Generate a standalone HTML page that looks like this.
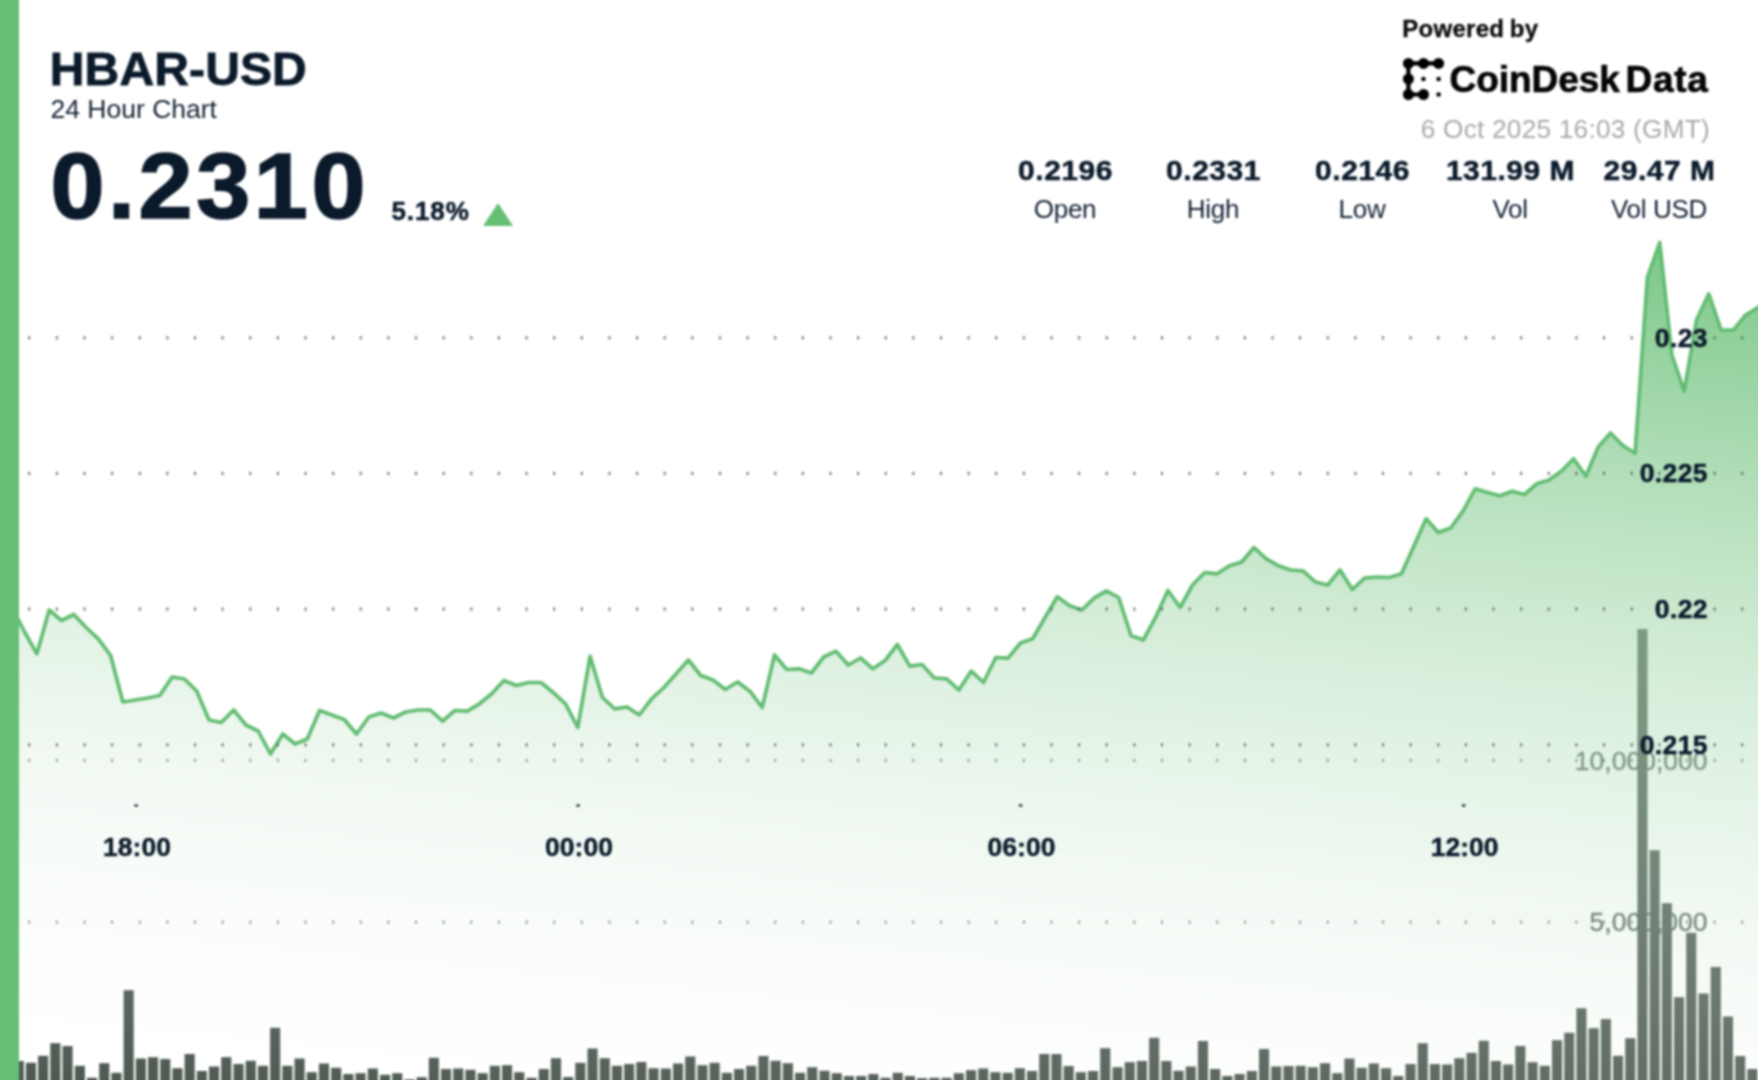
<!DOCTYPE html>
<html><head><meta charset="utf-8"><title>HBAR-USD 24 Hour Chart</title>
<style>
html,body{margin:0;padding:0;background:#fff;}
body{width:1758px;height:1080px;overflow:hidden;position:relative;font-family:"Liberation Sans",sans-serif;}
svg{position:absolute;left:-24px;top:-24px;display:block;filter:blur(1.0px);}
svg text{font-family:"Liberation Sans",sans-serif;}
</style></head><body>
<svg width="1806" height="1128" viewBox="-24 -24 1806 1128">
<defs>
<linearGradient id="ag" gradientUnits="userSpaceOnUse" x1="1758" y1="242" x2="1660.4" y2="1242.1">
<stop offset="0" stop-color="#66be74" stop-opacity="0.88"/>
<stop offset="1" stop-color="#ffffff" stop-opacity="0"/>
</linearGradient>
</defs>
<rect x="-24" y="-24" width="1806" height="1128" fill="#fff"/>
<text x="1707.5" y="769.8" text-anchor="end" font-size="26.5" fill="#5a665e" stroke="#5a665e" stroke-width="0.4">10,000,000</text>
<text x="1707.5" y="931.3" text-anchor="end" font-size="26.5" fill="#5a665e" stroke="#5a665e" stroke-width="0.4">5,000,000</text>
<g fill="#4c5850">
<rect x="1.5" y="1061.0" width="10.1" height="43.0"/>
<rect x="13.7" y="1061.0" width="10.1" height="43.0"/>
<rect x="25.9" y="1062.8" width="10.1" height="41.2"/>
<rect x="38.1" y="1055.8" width="10.1" height="48.2"/>
<rect x="50.3" y="1043.2" width="10.1" height="60.8"/>
<rect x="62.5" y="1046.0" width="10.1" height="58.0"/>
<rect x="74.8" y="1065.8" width="10.1" height="38.2"/>
<rect x="87.0" y="1077.8" width="10.1" height="26.2"/>
<rect x="99.2" y="1063.2" width="10.1" height="40.8"/>
<rect x="111.4" y="1072.8" width="10.1" height="31.2"/>
<rect x="123.6" y="990.2" width="10.1" height="113.8"/>
<rect x="135.8" y="1058.5" width="10.1" height="45.5"/>
<rect x="148.0" y="1057.2" width="10.1" height="46.8"/>
<rect x="160.2" y="1059.0" width="10.1" height="45.0"/>
<rect x="172.4" y="1068.2" width="10.1" height="35.8"/>
<rect x="184.6" y="1054.0" width="10.1" height="50.0"/>
<rect x="196.8" y="1071.0" width="10.1" height="33.0"/>
<rect x="209.0" y="1066.5" width="10.1" height="37.5"/>
<rect x="221.2" y="1057.2" width="10.1" height="46.8"/>
<rect x="233.5" y="1064.0" width="10.1" height="40.0"/>
<rect x="245.7" y="1060.8" width="10.1" height="43.2"/>
<rect x="257.9" y="1065.8" width="10.1" height="38.2"/>
<rect x="270.1" y="1027.8" width="10.1" height="76.2"/>
<rect x="282.3" y="1065.8" width="10.1" height="38.2"/>
<rect x="294.5" y="1058.5" width="10.1" height="45.5"/>
<rect x="306.7" y="1072.2" width="10.1" height="31.8"/>
<rect x="318.9" y="1063.5" width="10.1" height="40.5"/>
<rect x="331.1" y="1067.8" width="10.1" height="36.2"/>
<rect x="343.3" y="1074.0" width="10.1" height="30.0"/>
<rect x="355.5" y="1073.2" width="10.1" height="30.8"/>
<rect x="367.8" y="1068.5" width="10.1" height="35.5"/>
<rect x="380.0" y="1074.8" width="10.1" height="29.2"/>
<rect x="392.2" y="1073.2" width="10.1" height="30.8"/>
<rect x="404.4" y="1079.5" width="10.1" height="24.5"/>
<rect x="416.6" y="1077.2" width="10.1" height="26.8"/>
<rect x="428.8" y="1057.8" width="10.1" height="46.2"/>
<rect x="441.0" y="1069.0" width="10.1" height="35.0"/>
<rect x="453.2" y="1068.5" width="10.1" height="35.5"/>
<rect x="465.4" y="1069.8" width="10.1" height="34.2"/>
<rect x="477.6" y="1073.2" width="10.1" height="30.8"/>
<rect x="489.8" y="1065.8" width="10.1" height="38.2"/>
<rect x="502.0" y="1065.2" width="10.1" height="38.8"/>
<rect x="514.2" y="1072.2" width="10.1" height="31.8"/>
<rect x="526.5" y="1077.8" width="10.1" height="26.2"/>
<rect x="538.7" y="1069.0" width="10.1" height="35.0"/>
<rect x="550.9" y="1058.2" width="10.1" height="45.8"/>
<rect x="563.1" y="1077.0" width="10.1" height="27.0"/>
<rect x="575.3" y="1062.8" width="10.1" height="41.2"/>
<rect x="587.5" y="1048.5" width="10.1" height="55.5"/>
<rect x="599.7" y="1058.2" width="10.1" height="45.8"/>
<rect x="611.9" y="1065.8" width="10.1" height="38.2"/>
<rect x="624.1" y="1064.0" width="10.1" height="40.0"/>
<rect x="636.3" y="1062.0" width="10.1" height="42.0"/>
<rect x="648.5" y="1068.2" width="10.1" height="35.8"/>
<rect x="660.8" y="1068.5" width="10.1" height="35.5"/>
<rect x="673.0" y="1063.5" width="10.1" height="40.5"/>
<rect x="685.2" y="1056.5" width="10.1" height="47.5"/>
<rect x="697.4" y="1065.2" width="10.1" height="38.8"/>
<rect x="709.6" y="1062.8" width="10.1" height="41.2"/>
<rect x="721.8" y="1072.8" width="10.1" height="31.2"/>
<rect x="734.0" y="1069.0" width="10.1" height="35.0"/>
<rect x="746.2" y="1065.8" width="10.1" height="38.2"/>
<rect x="758.4" y="1056.0" width="10.1" height="48.0"/>
<rect x="770.6" y="1060.8" width="10.1" height="43.2"/>
<rect x="782.8" y="1063.2" width="10.1" height="40.8"/>
<rect x="795.0" y="1072.8" width="10.1" height="31.2"/>
<rect x="807.2" y="1067.2" width="10.1" height="36.8"/>
<rect x="819.5" y="1070.8" width="10.1" height="33.2"/>
<rect x="831.7" y="1073.2" width="10.1" height="30.8"/>
<rect x="843.9" y="1076.0" width="10.1" height="28.0"/>
<rect x="856.1" y="1076.0" width="10.1" height="28.0"/>
<rect x="868.3" y="1074.0" width="10.1" height="30.0"/>
<rect x="880.5" y="1077.8" width="10.1" height="26.2"/>
<rect x="892.7" y="1072.8" width="10.1" height="31.2"/>
<rect x="904.9" y="1076.0" width="10.1" height="28.0"/>
<rect x="917.1" y="1078.2" width="10.1" height="25.8"/>
<rect x="929.3" y="1077.8" width="10.1" height="26.2"/>
<rect x="941.5" y="1077.8" width="10.1" height="26.2"/>
<rect x="953.8" y="1073.2" width="10.1" height="30.8"/>
<rect x="966.0" y="1070.2" width="10.1" height="33.8"/>
<rect x="978.2" y="1068.5" width="10.1" height="35.5"/>
<rect x="990.4" y="1072.2" width="10.1" height="31.8"/>
<rect x="1002.6" y="1072.8" width="10.1" height="31.2"/>
<rect x="1014.8" y="1068.2" width="10.1" height="35.8"/>
<rect x="1027.0" y="1071.0" width="10.1" height="33.0"/>
<rect x="1039.2" y="1054.0" width="10.1" height="50.0"/>
<rect x="1051.4" y="1054.0" width="10.1" height="50.0"/>
<rect x="1063.6" y="1066.0" width="10.1" height="38.0"/>
<rect x="1075.8" y="1072.2" width="10.1" height="31.8"/>
<rect x="1088.0" y="1071.0" width="10.1" height="33.0"/>
<rect x="1100.2" y="1048.2" width="10.1" height="55.8"/>
<rect x="1112.5" y="1067.2" width="10.1" height="36.8"/>
<rect x="1124.7" y="1062.2" width="10.1" height="41.8"/>
<rect x="1136.9" y="1061.0" width="10.1" height="43.0"/>
<rect x="1149.1" y="1037.8" width="10.1" height="66.2"/>
<rect x="1161.3" y="1061.0" width="10.1" height="43.0"/>
<rect x="1173.5" y="1070.8" width="10.1" height="33.2"/>
<rect x="1185.7" y="1066.5" width="10.1" height="37.5"/>
<rect x="1197.9" y="1041.0" width="10.1" height="63.0"/>
<rect x="1210.1" y="1069.0" width="10.1" height="35.0"/>
<rect x="1222.3" y="1076.0" width="10.1" height="28.0"/>
<rect x="1234.5" y="1074.0" width="10.1" height="30.0"/>
<rect x="1246.8" y="1071.0" width="10.1" height="33.0"/>
<rect x="1259.0" y="1049.0" width="10.1" height="55.0"/>
<rect x="1271.2" y="1066.5" width="10.1" height="37.5"/>
<rect x="1283.4" y="1066.0" width="10.1" height="38.0"/>
<rect x="1295.6" y="1065.8" width="10.1" height="38.2"/>
<rect x="1307.8" y="1067.2" width="10.1" height="36.8"/>
<rect x="1320.0" y="1063.2" width="10.1" height="40.8"/>
<rect x="1332.2" y="1073.2" width="10.1" height="30.8"/>
<rect x="1344.4" y="1058.5" width="10.1" height="45.5"/>
<rect x="1356.6" y="1067.8" width="10.1" height="36.2"/>
<rect x="1368.8" y="1063.5" width="10.1" height="40.5"/>
<rect x="1381.0" y="1068.2" width="10.1" height="35.8"/>
<rect x="1393.2" y="1076.0" width="10.1" height="28.0"/>
<rect x="1405.5" y="1064.0" width="10.1" height="40.0"/>
<rect x="1417.7" y="1043.2" width="10.1" height="60.8"/>
<rect x="1429.9" y="1064.0" width="10.1" height="40.0"/>
<rect x="1442.1" y="1064.5" width="10.1" height="39.5"/>
<rect x="1454.3" y="1058.2" width="10.1" height="45.8"/>
<rect x="1466.5" y="1052.8" width="10.1" height="51.2"/>
<rect x="1478.7" y="1040.8" width="10.1" height="63.2"/>
<rect x="1490.9" y="1061.0" width="10.1" height="43.0"/>
<rect x="1503.1" y="1064.5" width="10.1" height="39.5"/>
<rect x="1515.3" y="1046.0" width="10.1" height="58.0"/>
<rect x="1527.5" y="1062.2" width="10.1" height="41.8"/>
<rect x="1539.8" y="1065.8" width="10.1" height="38.2"/>
<rect x="1552.0" y="1040.2" width="10.1" height="63.8"/>
<rect x="1564.2" y="1032.8" width="10.1" height="71.2"/>
<rect x="1576.4" y="1008.2" width="10.1" height="95.8"/>
<rect x="1588.6" y="1028.2" width="10.1" height="75.8"/>
<rect x="1600.8" y="1019.0" width="10.1" height="85.0"/>
<rect x="1613.0" y="1055.8" width="10.1" height="48.2"/>
<rect x="1625.2" y="1038.2" width="10.1" height="65.8"/>
<rect x="1637.4" y="629.0" width="10.1" height="475.0"/>
<rect x="1649.6" y="850.2" width="10.1" height="253.8"/>
<rect x="1661.8" y="903.2" width="10.1" height="200.8"/>
<rect x="1674.0" y="997.2" width="10.1" height="106.8"/>
<rect x="1686.2" y="932.8" width="10.1" height="171.2"/>
<rect x="1698.5" y="993.5" width="10.1" height="110.5"/>
<rect x="1710.7" y="967.0" width="10.1" height="137.0"/>
<rect x="1722.9" y="1016.5" width="10.1" height="87.5"/>
<rect x="1735.1" y="1056.0" width="10.1" height="48.0"/>
<rect x="1747.3" y="1069.0" width="10.1" height="35.0"/>
</g>
<path d="M-24.0,605.0 L0.0,605.0 L12.3,608.0 L24.6,632.0 L36.9,653.8 L49.2,610.0 L61.5,620.5 L73.8,614.5 L86.1,627.5 L98.3,638.8 L110.6,655.5 L122.9,702.0 L135.2,700.0 L147.5,698.0 L159.8,695.5 L172.1,677.0 L184.4,679.0 L196.7,691.0 L209.0,720.0 L221.3,722.5 L233.6,710.0 L245.9,725.0 L258.2,731.0 L270.5,754.0 L282.8,734.0 L295.0,744.0 L307.3,739.0 L319.6,710.5 L331.9,715.0 L344.2,719.5 L356.5,734.0 L368.8,717.0 L381.1,713.0 L393.4,718.0 L405.7,712.0 L418.0,710.0 L430.3,710.0 L442.6,721.2 L454.9,710.5 L467.2,711.2 L479.5,703.8 L491.7,693.8 L504.0,680.5 L516.3,685.5 L528.6,682.5 L540.9,682.5 L553.2,692.5 L565.5,703.8 L577.8,727.5 L590.1,656.2 L602.4,697.5 L614.7,708.8 L627.0,707.0 L639.3,715.0 L651.6,698.8 L663.9,687.5 L676.2,673.8 L688.4,660.0 L700.7,675.5 L713.0,680.0 L725.3,689.5 L737.6,682.0 L749.9,691.2 L762.2,707.5 L774.5,655.0 L786.8,669.5 L799.1,668.8 L811.4,673.0 L823.7,657.0 L836.0,651.2 L848.3,665.0 L860.6,658.0 L872.9,668.8 L885.1,660.5 L897.4,644.5 L909.7,666.2 L922.0,664.5 L934.3,678.0 L946.6,678.8 L958.9,690.0 L971.2,671.2 L983.5,682.5 L995.8,657.5 L1008.1,658.2 L1020.4,643.0 L1032.7,638.8 L1045.0,617.5 L1057.3,596.8 L1069.6,605.8 L1081.8,610.0 L1094.1,598.2 L1106.4,590.8 L1118.7,597.5 L1131.0,635.5 L1143.3,640.0 L1155.6,617.5 L1167.9,590.5 L1180.2,607.5 L1192.5,585.0 L1204.8,572.5 L1217.1,573.8 L1229.4,565.8 L1241.7,562.0 L1254.0,547.5 L1266.3,558.8 L1278.5,565.8 L1290.8,570.0 L1303.1,570.8 L1315.4,582.0 L1327.7,585.0 L1340.0,570.0 L1352.3,589.5 L1364.6,578.2 L1376.9,577.0 L1389.2,577.5 L1401.5,573.8 L1413.8,546.2 L1426.1,518.8 L1438.4,532.5 L1450.7,528.0 L1463.0,511.2 L1475.2,488.8 L1487.5,492.5 L1499.8,495.8 L1512.1,491.2 L1524.4,494.5 L1536.7,483.8 L1549.0,480.0 L1561.3,471.2 L1573.6,458.8 L1585.9,476.2 L1598.2,447.0 L1610.5,433.0 L1622.8,445.5 L1635.1,453.2 L1647.4,277.5 L1659.7,242.5 L1671.9,355.0 L1684.2,391.0 L1696.5,320.0 L1708.8,293.8 L1721.1,330.0 L1733.4,330.0 L1745.7,315.0 L1758.0,307.5 L1782.0,292.9 L1782,1104 L-24,1104 Z" fill="url(#ag)"/>
<path d="M-24.0,605.0 L0.0,605.0 L12.3,608.0 L24.6,632.0 L36.9,653.8 L49.2,610.0 L61.5,620.5 L73.8,614.5 L86.1,627.5 L98.3,638.8 L110.6,655.5 L122.9,702.0 L135.2,700.0 L147.5,698.0 L159.8,695.5 L172.1,677.0 L184.4,679.0 L196.7,691.0 L209.0,720.0 L221.3,722.5 L233.6,710.0 L245.9,725.0 L258.2,731.0 L270.5,754.0 L282.8,734.0 L295.0,744.0 L307.3,739.0 L319.6,710.5 L331.9,715.0 L344.2,719.5 L356.5,734.0 L368.8,717.0 L381.1,713.0 L393.4,718.0 L405.7,712.0 L418.0,710.0 L430.3,710.0 L442.6,721.2 L454.9,710.5 L467.2,711.2 L479.5,703.8 L491.7,693.8 L504.0,680.5 L516.3,685.5 L528.6,682.5 L540.9,682.5 L553.2,692.5 L565.5,703.8 L577.8,727.5 L590.1,656.2 L602.4,697.5 L614.7,708.8 L627.0,707.0 L639.3,715.0 L651.6,698.8 L663.9,687.5 L676.2,673.8 L688.4,660.0 L700.7,675.5 L713.0,680.0 L725.3,689.5 L737.6,682.0 L749.9,691.2 L762.2,707.5 L774.5,655.0 L786.8,669.5 L799.1,668.8 L811.4,673.0 L823.7,657.0 L836.0,651.2 L848.3,665.0 L860.6,658.0 L872.9,668.8 L885.1,660.5 L897.4,644.5 L909.7,666.2 L922.0,664.5 L934.3,678.0 L946.6,678.8 L958.9,690.0 L971.2,671.2 L983.5,682.5 L995.8,657.5 L1008.1,658.2 L1020.4,643.0 L1032.7,638.8 L1045.0,617.5 L1057.3,596.8 L1069.6,605.8 L1081.8,610.0 L1094.1,598.2 L1106.4,590.8 L1118.7,597.5 L1131.0,635.5 L1143.3,640.0 L1155.6,617.5 L1167.9,590.5 L1180.2,607.5 L1192.5,585.0 L1204.8,572.5 L1217.1,573.8 L1229.4,565.8 L1241.7,562.0 L1254.0,547.5 L1266.3,558.8 L1278.5,565.8 L1290.8,570.0 L1303.1,570.8 L1315.4,582.0 L1327.7,585.0 L1340.0,570.0 L1352.3,589.5 L1364.6,578.2 L1376.9,577.0 L1389.2,577.5 L1401.5,573.8 L1413.8,546.2 L1426.1,518.8 L1438.4,532.5 L1450.7,528.0 L1463.0,511.2 L1475.2,488.8 L1487.5,492.5 L1499.8,495.8 L1512.1,491.2 L1524.4,494.5 L1536.7,483.8 L1549.0,480.0 L1561.3,471.2 L1573.6,458.8 L1585.9,476.2 L1598.2,447.0 L1610.5,433.0 L1622.8,445.5 L1635.1,453.2 L1647.4,277.5 L1659.7,242.5 L1671.9,355.0 L1684.2,391.0 L1696.5,320.0 L1708.8,293.8 L1721.1,330.0 L1733.4,330.0 L1745.7,315.0 L1758.0,307.5 L1782.0,292.9" fill="none" stroke="#62bc72" stroke-width="3.7" stroke-linejoin="round"/>
<g fill="#55555a" opacity="0.8"><rect x="28.2" y="336.3" width="2.0" height="3.2"/><rect x="55.9" y="336.3" width="2.0" height="3.2"/><rect x="83.5" y="336.3" width="2.0" height="3.2"/><rect x="111.1" y="336.3" width="2.0" height="3.2"/><rect x="138.8" y="336.3" width="2.0" height="3.2"/><rect x="166.4" y="336.3" width="2.0" height="3.2"/><rect x="194.0" y="336.3" width="2.0" height="3.2"/><rect x="221.6" y="336.3" width="2.0" height="3.2"/><rect x="249.3" y="336.3" width="2.0" height="3.2"/><rect x="276.9" y="336.3" width="2.0" height="3.2"/><rect x="304.5" y="336.3" width="2.0" height="3.2"/><rect x="332.2" y="336.3" width="2.0" height="3.2"/><rect x="359.8" y="336.3" width="2.0" height="3.2"/><rect x="387.4" y="336.3" width="2.0" height="3.2"/><rect x="415.0" y="336.3" width="2.0" height="3.2"/><rect x="442.7" y="336.3" width="2.0" height="3.2"/><rect x="470.3" y="336.3" width="2.0" height="3.2"/><rect x="497.9" y="336.3" width="2.0" height="3.2"/><rect x="525.6" y="336.3" width="2.0" height="3.2"/><rect x="553.2" y="336.3" width="2.0" height="3.2"/><rect x="580.8" y="336.3" width="2.0" height="3.2"/><rect x="608.4" y="336.3" width="2.0" height="3.2"/><rect x="636.1" y="336.3" width="2.0" height="3.2"/><rect x="663.7" y="336.3" width="2.0" height="3.2"/><rect x="691.3" y="336.3" width="2.0" height="3.2"/><rect x="719.0" y="336.3" width="2.0" height="3.2"/><rect x="746.6" y="336.3" width="2.0" height="3.2"/><rect x="774.2" y="336.3" width="2.0" height="3.2"/><rect x="801.8" y="336.3" width="2.0" height="3.2"/><rect x="829.5" y="336.3" width="2.0" height="3.2"/><rect x="857.1" y="336.3" width="2.0" height="3.2"/><rect x="884.7" y="336.3" width="2.0" height="3.2"/><rect x="912.3" y="336.3" width="2.0" height="3.2"/><rect x="940.0" y="336.3" width="2.0" height="3.2"/><rect x="967.6" y="336.3" width="2.0" height="3.2"/><rect x="995.2" y="336.3" width="2.0" height="3.2"/><rect x="1022.9" y="336.3" width="2.0" height="3.2"/><rect x="1050.5" y="336.3" width="2.0" height="3.2"/><rect x="1078.1" y="336.3" width="2.0" height="3.2"/><rect x="1105.7" y="336.3" width="2.0" height="3.2"/><rect x="1133.4" y="336.3" width="2.0" height="3.2"/><rect x="1161.0" y="336.3" width="2.0" height="3.2"/><rect x="1188.6" y="336.3" width="2.0" height="3.2"/><rect x="1216.3" y="336.3" width="2.0" height="3.2"/><rect x="1243.9" y="336.3" width="2.0" height="3.2"/><rect x="1271.5" y="336.3" width="2.0" height="3.2"/><rect x="1299.1" y="336.3" width="2.0" height="3.2"/><rect x="1326.8" y="336.3" width="2.0" height="3.2"/><rect x="1354.4" y="336.3" width="2.0" height="3.2"/><rect x="1382.0" y="336.3" width="2.0" height="3.2"/><rect x="1409.6" y="336.3" width="2.0" height="3.2"/><rect x="1437.3" y="336.3" width="2.0" height="3.2"/><rect x="1464.9" y="336.3" width="2.0" height="3.2"/><rect x="1492.5" y="336.3" width="2.0" height="3.2"/><rect x="1520.2" y="336.3" width="2.0" height="3.2"/><rect x="1547.8" y="336.3" width="2.0" height="3.2"/><rect x="1575.4" y="336.3" width="2.0" height="3.2"/><rect x="1603.0" y="336.3" width="2.0" height="3.2"/><rect x="1630.7" y="336.3" width="2.0" height="3.2"/><rect x="1658.3" y="336.3" width="2.0" height="3.2"/><rect x="1685.9" y="336.3" width="2.0" height="3.2"/><rect x="1713.6" y="336.3" width="2.0" height="3.2"/><rect x="1741.2" y="336.3" width="2.0" height="3.2"/><rect x="1768.8" y="336.3" width="2.0" height="3.2"/></g>
<g fill="#55555a" opacity="0.8"><rect x="28.2" y="471.8" width="2.0" height="3.2"/><rect x="55.9" y="471.8" width="2.0" height="3.2"/><rect x="83.5" y="471.8" width="2.0" height="3.2"/><rect x="111.1" y="471.8" width="2.0" height="3.2"/><rect x="138.8" y="471.8" width="2.0" height="3.2"/><rect x="166.4" y="471.8" width="2.0" height="3.2"/><rect x="194.0" y="471.8" width="2.0" height="3.2"/><rect x="221.6" y="471.8" width="2.0" height="3.2"/><rect x="249.3" y="471.8" width="2.0" height="3.2"/><rect x="276.9" y="471.8" width="2.0" height="3.2"/><rect x="304.5" y="471.8" width="2.0" height="3.2"/><rect x="332.2" y="471.8" width="2.0" height="3.2"/><rect x="359.8" y="471.8" width="2.0" height="3.2"/><rect x="387.4" y="471.8" width="2.0" height="3.2"/><rect x="415.0" y="471.8" width="2.0" height="3.2"/><rect x="442.7" y="471.8" width="2.0" height="3.2"/><rect x="470.3" y="471.8" width="2.0" height="3.2"/><rect x="497.9" y="471.8" width="2.0" height="3.2"/><rect x="525.6" y="471.8" width="2.0" height="3.2"/><rect x="553.2" y="471.8" width="2.0" height="3.2"/><rect x="580.8" y="471.8" width="2.0" height="3.2"/><rect x="608.4" y="471.8" width="2.0" height="3.2"/><rect x="636.1" y="471.8" width="2.0" height="3.2"/><rect x="663.7" y="471.8" width="2.0" height="3.2"/><rect x="691.3" y="471.8" width="2.0" height="3.2"/><rect x="719.0" y="471.8" width="2.0" height="3.2"/><rect x="746.6" y="471.8" width="2.0" height="3.2"/><rect x="774.2" y="471.8" width="2.0" height="3.2"/><rect x="801.8" y="471.8" width="2.0" height="3.2"/><rect x="829.5" y="471.8" width="2.0" height="3.2"/><rect x="857.1" y="471.8" width="2.0" height="3.2"/><rect x="884.7" y="471.8" width="2.0" height="3.2"/><rect x="912.3" y="471.8" width="2.0" height="3.2"/><rect x="940.0" y="471.8" width="2.0" height="3.2"/><rect x="967.6" y="471.8" width="2.0" height="3.2"/><rect x="995.2" y="471.8" width="2.0" height="3.2"/><rect x="1022.9" y="471.8" width="2.0" height="3.2"/><rect x="1050.5" y="471.8" width="2.0" height="3.2"/><rect x="1078.1" y="471.8" width="2.0" height="3.2"/><rect x="1105.7" y="471.8" width="2.0" height="3.2"/><rect x="1133.4" y="471.8" width="2.0" height="3.2"/><rect x="1161.0" y="471.8" width="2.0" height="3.2"/><rect x="1188.6" y="471.8" width="2.0" height="3.2"/><rect x="1216.3" y="471.8" width="2.0" height="3.2"/><rect x="1243.9" y="471.8" width="2.0" height="3.2"/><rect x="1271.5" y="471.8" width="2.0" height="3.2"/><rect x="1299.1" y="471.8" width="2.0" height="3.2"/><rect x="1326.8" y="471.8" width="2.0" height="3.2"/><rect x="1354.4" y="471.8" width="2.0" height="3.2"/><rect x="1382.0" y="471.8" width="2.0" height="3.2"/><rect x="1409.6" y="471.8" width="2.0" height="3.2"/><rect x="1437.3" y="471.8" width="2.0" height="3.2"/><rect x="1464.9" y="471.8" width="2.0" height="3.2"/><rect x="1492.5" y="471.8" width="2.0" height="3.2"/><rect x="1520.2" y="471.8" width="2.0" height="3.2"/><rect x="1547.8" y="471.8" width="2.0" height="3.2"/><rect x="1575.4" y="471.8" width="2.0" height="3.2"/><rect x="1603.0" y="471.8" width="2.0" height="3.2"/><rect x="1630.7" y="471.8" width="2.0" height="3.2"/><rect x="1658.3" y="471.8" width="2.0" height="3.2"/><rect x="1685.9" y="471.8" width="2.0" height="3.2"/><rect x="1713.6" y="471.8" width="2.0" height="3.2"/><rect x="1741.2" y="471.8" width="2.0" height="3.2"/><rect x="1768.8" y="471.8" width="2.0" height="3.2"/></g>
<g fill="#55555a" opacity="0.8"><rect x="28.2" y="607.5" width="2.0" height="3.2"/><rect x="55.9" y="607.5" width="2.0" height="3.2"/><rect x="83.5" y="607.5" width="2.0" height="3.2"/><rect x="111.1" y="607.5" width="2.0" height="3.2"/><rect x="138.8" y="607.5" width="2.0" height="3.2"/><rect x="166.4" y="607.5" width="2.0" height="3.2"/><rect x="194.0" y="607.5" width="2.0" height="3.2"/><rect x="221.6" y="607.5" width="2.0" height="3.2"/><rect x="249.3" y="607.5" width="2.0" height="3.2"/><rect x="276.9" y="607.5" width="2.0" height="3.2"/><rect x="304.5" y="607.5" width="2.0" height="3.2"/><rect x="332.2" y="607.5" width="2.0" height="3.2"/><rect x="359.8" y="607.5" width="2.0" height="3.2"/><rect x="387.4" y="607.5" width="2.0" height="3.2"/><rect x="415.0" y="607.5" width="2.0" height="3.2"/><rect x="442.7" y="607.5" width="2.0" height="3.2"/><rect x="470.3" y="607.5" width="2.0" height="3.2"/><rect x="497.9" y="607.5" width="2.0" height="3.2"/><rect x="525.6" y="607.5" width="2.0" height="3.2"/><rect x="553.2" y="607.5" width="2.0" height="3.2"/><rect x="580.8" y="607.5" width="2.0" height="3.2"/><rect x="608.4" y="607.5" width="2.0" height="3.2"/><rect x="636.1" y="607.5" width="2.0" height="3.2"/><rect x="663.7" y="607.5" width="2.0" height="3.2"/><rect x="691.3" y="607.5" width="2.0" height="3.2"/><rect x="719.0" y="607.5" width="2.0" height="3.2"/><rect x="746.6" y="607.5" width="2.0" height="3.2"/><rect x="774.2" y="607.5" width="2.0" height="3.2"/><rect x="801.8" y="607.5" width="2.0" height="3.2"/><rect x="829.5" y="607.5" width="2.0" height="3.2"/><rect x="857.1" y="607.5" width="2.0" height="3.2"/><rect x="884.7" y="607.5" width="2.0" height="3.2"/><rect x="912.3" y="607.5" width="2.0" height="3.2"/><rect x="940.0" y="607.5" width="2.0" height="3.2"/><rect x="967.6" y="607.5" width="2.0" height="3.2"/><rect x="995.2" y="607.5" width="2.0" height="3.2"/><rect x="1022.9" y="607.5" width="2.0" height="3.2"/><rect x="1050.5" y="607.5" width="2.0" height="3.2"/><rect x="1078.1" y="607.5" width="2.0" height="3.2"/><rect x="1105.7" y="607.5" width="2.0" height="3.2"/><rect x="1133.4" y="607.5" width="2.0" height="3.2"/><rect x="1161.0" y="607.5" width="2.0" height="3.2"/><rect x="1188.6" y="607.5" width="2.0" height="3.2"/><rect x="1216.3" y="607.5" width="2.0" height="3.2"/><rect x="1243.9" y="607.5" width="2.0" height="3.2"/><rect x="1271.5" y="607.5" width="2.0" height="3.2"/><rect x="1299.1" y="607.5" width="2.0" height="3.2"/><rect x="1326.8" y="607.5" width="2.0" height="3.2"/><rect x="1354.4" y="607.5" width="2.0" height="3.2"/><rect x="1382.0" y="607.5" width="2.0" height="3.2"/><rect x="1409.6" y="607.5" width="2.0" height="3.2"/><rect x="1437.3" y="607.5" width="2.0" height="3.2"/><rect x="1464.9" y="607.5" width="2.0" height="3.2"/><rect x="1492.5" y="607.5" width="2.0" height="3.2"/><rect x="1520.2" y="607.5" width="2.0" height="3.2"/><rect x="1547.8" y="607.5" width="2.0" height="3.2"/><rect x="1575.4" y="607.5" width="2.0" height="3.2"/><rect x="1603.0" y="607.5" width="2.0" height="3.2"/><rect x="1630.7" y="607.5" width="2.0" height="3.2"/><rect x="1658.3" y="607.5" width="2.0" height="3.2"/><rect x="1685.9" y="607.5" width="2.0" height="3.2"/><rect x="1713.6" y="607.5" width="2.0" height="3.2"/><rect x="1741.2" y="607.5" width="2.0" height="3.2"/><rect x="1768.8" y="607.5" width="2.0" height="3.2"/></g>
<g fill="#55555a" opacity="0.8"><rect x="28.2" y="743.3" width="2.0" height="3.2"/><rect x="55.9" y="743.3" width="2.0" height="3.2"/><rect x="83.5" y="743.3" width="2.0" height="3.2"/><rect x="111.1" y="743.3" width="2.0" height="3.2"/><rect x="138.8" y="743.3" width="2.0" height="3.2"/><rect x="166.4" y="743.3" width="2.0" height="3.2"/><rect x="194.0" y="743.3" width="2.0" height="3.2"/><rect x="221.6" y="743.3" width="2.0" height="3.2"/><rect x="249.3" y="743.3" width="2.0" height="3.2"/><rect x="276.9" y="743.3" width="2.0" height="3.2"/><rect x="304.5" y="743.3" width="2.0" height="3.2"/><rect x="332.2" y="743.3" width="2.0" height="3.2"/><rect x="359.8" y="743.3" width="2.0" height="3.2"/><rect x="387.4" y="743.3" width="2.0" height="3.2"/><rect x="415.0" y="743.3" width="2.0" height="3.2"/><rect x="442.7" y="743.3" width="2.0" height="3.2"/><rect x="470.3" y="743.3" width="2.0" height="3.2"/><rect x="497.9" y="743.3" width="2.0" height="3.2"/><rect x="525.6" y="743.3" width="2.0" height="3.2"/><rect x="553.2" y="743.3" width="2.0" height="3.2"/><rect x="580.8" y="743.3" width="2.0" height="3.2"/><rect x="608.4" y="743.3" width="2.0" height="3.2"/><rect x="636.1" y="743.3" width="2.0" height="3.2"/><rect x="663.7" y="743.3" width="2.0" height="3.2"/><rect x="691.3" y="743.3" width="2.0" height="3.2"/><rect x="719.0" y="743.3" width="2.0" height="3.2"/><rect x="746.6" y="743.3" width="2.0" height="3.2"/><rect x="774.2" y="743.3" width="2.0" height="3.2"/><rect x="801.8" y="743.3" width="2.0" height="3.2"/><rect x="829.5" y="743.3" width="2.0" height="3.2"/><rect x="857.1" y="743.3" width="2.0" height="3.2"/><rect x="884.7" y="743.3" width="2.0" height="3.2"/><rect x="912.3" y="743.3" width="2.0" height="3.2"/><rect x="940.0" y="743.3" width="2.0" height="3.2"/><rect x="967.6" y="743.3" width="2.0" height="3.2"/><rect x="995.2" y="743.3" width="2.0" height="3.2"/><rect x="1022.9" y="743.3" width="2.0" height="3.2"/><rect x="1050.5" y="743.3" width="2.0" height="3.2"/><rect x="1078.1" y="743.3" width="2.0" height="3.2"/><rect x="1105.7" y="743.3" width="2.0" height="3.2"/><rect x="1133.4" y="743.3" width="2.0" height="3.2"/><rect x="1161.0" y="743.3" width="2.0" height="3.2"/><rect x="1188.6" y="743.3" width="2.0" height="3.2"/><rect x="1216.3" y="743.3" width="2.0" height="3.2"/><rect x="1243.9" y="743.3" width="2.0" height="3.2"/><rect x="1271.5" y="743.3" width="2.0" height="3.2"/><rect x="1299.1" y="743.3" width="2.0" height="3.2"/><rect x="1326.8" y="743.3" width="2.0" height="3.2"/><rect x="1354.4" y="743.3" width="2.0" height="3.2"/><rect x="1382.0" y="743.3" width="2.0" height="3.2"/><rect x="1409.6" y="743.3" width="2.0" height="3.2"/><rect x="1437.3" y="743.3" width="2.0" height="3.2"/><rect x="1464.9" y="743.3" width="2.0" height="3.2"/><rect x="1492.5" y="743.3" width="2.0" height="3.2"/><rect x="1520.2" y="743.3" width="2.0" height="3.2"/><rect x="1547.8" y="743.3" width="2.0" height="3.2"/><rect x="1575.4" y="743.3" width="2.0" height="3.2"/><rect x="1603.0" y="743.3" width="2.0" height="3.2"/><rect x="1630.7" y="743.3" width="2.0" height="3.2"/><rect x="1658.3" y="743.3" width="2.0" height="3.2"/><rect x="1685.9" y="743.3" width="2.0" height="3.2"/><rect x="1713.6" y="743.3" width="2.0" height="3.2"/><rect x="1741.2" y="743.3" width="2.0" height="3.2"/><rect x="1768.8" y="743.3" width="2.0" height="3.2"/></g>
<g fill="#7a807c" opacity="0.75"><rect x="28.2" y="758.8" width="2.0" height="3.2"/><rect x="55.9" y="758.8" width="2.0" height="3.2"/><rect x="83.5" y="758.8" width="2.0" height="3.2"/><rect x="111.1" y="758.8" width="2.0" height="3.2"/><rect x="138.8" y="758.8" width="2.0" height="3.2"/><rect x="166.4" y="758.8" width="2.0" height="3.2"/><rect x="194.0" y="758.8" width="2.0" height="3.2"/><rect x="221.6" y="758.8" width="2.0" height="3.2"/><rect x="249.3" y="758.8" width="2.0" height="3.2"/><rect x="276.9" y="758.8" width="2.0" height="3.2"/><rect x="304.5" y="758.8" width="2.0" height="3.2"/><rect x="332.2" y="758.8" width="2.0" height="3.2"/><rect x="359.8" y="758.8" width="2.0" height="3.2"/><rect x="387.4" y="758.8" width="2.0" height="3.2"/><rect x="415.0" y="758.8" width="2.0" height="3.2"/><rect x="442.7" y="758.8" width="2.0" height="3.2"/><rect x="470.3" y="758.8" width="2.0" height="3.2"/><rect x="497.9" y="758.8" width="2.0" height="3.2"/><rect x="525.6" y="758.8" width="2.0" height="3.2"/><rect x="553.2" y="758.8" width="2.0" height="3.2"/><rect x="580.8" y="758.8" width="2.0" height="3.2"/><rect x="608.4" y="758.8" width="2.0" height="3.2"/><rect x="636.1" y="758.8" width="2.0" height="3.2"/><rect x="663.7" y="758.8" width="2.0" height="3.2"/><rect x="691.3" y="758.8" width="2.0" height="3.2"/><rect x="719.0" y="758.8" width="2.0" height="3.2"/><rect x="746.6" y="758.8" width="2.0" height="3.2"/><rect x="774.2" y="758.8" width="2.0" height="3.2"/><rect x="801.8" y="758.8" width="2.0" height="3.2"/><rect x="829.5" y="758.8" width="2.0" height="3.2"/><rect x="857.1" y="758.8" width="2.0" height="3.2"/><rect x="884.7" y="758.8" width="2.0" height="3.2"/><rect x="912.3" y="758.8" width="2.0" height="3.2"/><rect x="940.0" y="758.8" width="2.0" height="3.2"/><rect x="967.6" y="758.8" width="2.0" height="3.2"/><rect x="995.2" y="758.8" width="2.0" height="3.2"/><rect x="1022.9" y="758.8" width="2.0" height="3.2"/><rect x="1050.5" y="758.8" width="2.0" height="3.2"/><rect x="1078.1" y="758.8" width="2.0" height="3.2"/><rect x="1105.7" y="758.8" width="2.0" height="3.2"/><rect x="1133.4" y="758.8" width="2.0" height="3.2"/><rect x="1161.0" y="758.8" width="2.0" height="3.2"/><rect x="1188.6" y="758.8" width="2.0" height="3.2"/><rect x="1216.3" y="758.8" width="2.0" height="3.2"/><rect x="1243.9" y="758.8" width="2.0" height="3.2"/><rect x="1271.5" y="758.8" width="2.0" height="3.2"/><rect x="1299.1" y="758.8" width="2.0" height="3.2"/><rect x="1326.8" y="758.8" width="2.0" height="3.2"/><rect x="1354.4" y="758.8" width="2.0" height="3.2"/><rect x="1382.0" y="758.8" width="2.0" height="3.2"/><rect x="1409.6" y="758.8" width="2.0" height="3.2"/><rect x="1437.3" y="758.8" width="2.0" height="3.2"/><rect x="1464.9" y="758.8" width="2.0" height="3.2"/><rect x="1492.5" y="758.8" width="2.0" height="3.2"/><rect x="1520.2" y="758.8" width="2.0" height="3.2"/><rect x="1547.8" y="758.8" width="2.0" height="3.2"/><rect x="1575.4" y="758.8" width="2.0" height="3.2"/><rect x="1603.0" y="758.8" width="2.0" height="3.2"/><rect x="1630.7" y="758.8" width="2.0" height="3.2"/><rect x="1658.3" y="758.8" width="2.0" height="3.2"/><rect x="1685.9" y="758.8" width="2.0" height="3.2"/><rect x="1713.6" y="758.8" width="2.0" height="3.2"/><rect x="1741.2" y="758.8" width="2.0" height="3.2"/><rect x="1768.8" y="758.8" width="2.0" height="3.2"/></g>
<g fill="#7a807c" opacity="0.75"><rect x="28.2" y="920.5" width="2.0" height="3.2"/><rect x="55.9" y="920.5" width="2.0" height="3.2"/><rect x="83.5" y="920.5" width="2.0" height="3.2"/><rect x="111.1" y="920.5" width="2.0" height="3.2"/><rect x="138.8" y="920.5" width="2.0" height="3.2"/><rect x="166.4" y="920.5" width="2.0" height="3.2"/><rect x="194.0" y="920.5" width="2.0" height="3.2"/><rect x="221.6" y="920.5" width="2.0" height="3.2"/><rect x="249.3" y="920.5" width="2.0" height="3.2"/><rect x="276.9" y="920.5" width="2.0" height="3.2"/><rect x="304.5" y="920.5" width="2.0" height="3.2"/><rect x="332.2" y="920.5" width="2.0" height="3.2"/><rect x="359.8" y="920.5" width="2.0" height="3.2"/><rect x="387.4" y="920.5" width="2.0" height="3.2"/><rect x="415.0" y="920.5" width="2.0" height="3.2"/><rect x="442.7" y="920.5" width="2.0" height="3.2"/><rect x="470.3" y="920.5" width="2.0" height="3.2"/><rect x="497.9" y="920.5" width="2.0" height="3.2"/><rect x="525.6" y="920.5" width="2.0" height="3.2"/><rect x="553.2" y="920.5" width="2.0" height="3.2"/><rect x="580.8" y="920.5" width="2.0" height="3.2"/><rect x="608.4" y="920.5" width="2.0" height="3.2"/><rect x="636.1" y="920.5" width="2.0" height="3.2"/><rect x="663.7" y="920.5" width="2.0" height="3.2"/><rect x="691.3" y="920.5" width="2.0" height="3.2"/><rect x="719.0" y="920.5" width="2.0" height="3.2"/><rect x="746.6" y="920.5" width="2.0" height="3.2"/><rect x="774.2" y="920.5" width="2.0" height="3.2"/><rect x="801.8" y="920.5" width="2.0" height="3.2"/><rect x="829.5" y="920.5" width="2.0" height="3.2"/><rect x="857.1" y="920.5" width="2.0" height="3.2"/><rect x="884.7" y="920.5" width="2.0" height="3.2"/><rect x="912.3" y="920.5" width="2.0" height="3.2"/><rect x="940.0" y="920.5" width="2.0" height="3.2"/><rect x="967.6" y="920.5" width="2.0" height="3.2"/><rect x="995.2" y="920.5" width="2.0" height="3.2"/><rect x="1022.9" y="920.5" width="2.0" height="3.2"/><rect x="1050.5" y="920.5" width="2.0" height="3.2"/><rect x="1078.1" y="920.5" width="2.0" height="3.2"/><rect x="1105.7" y="920.5" width="2.0" height="3.2"/><rect x="1133.4" y="920.5" width="2.0" height="3.2"/><rect x="1161.0" y="920.5" width="2.0" height="3.2"/><rect x="1188.6" y="920.5" width="2.0" height="3.2"/><rect x="1216.3" y="920.5" width="2.0" height="3.2"/><rect x="1243.9" y="920.5" width="2.0" height="3.2"/><rect x="1271.5" y="920.5" width="2.0" height="3.2"/><rect x="1299.1" y="920.5" width="2.0" height="3.2"/><rect x="1326.8" y="920.5" width="2.0" height="3.2"/><rect x="1354.4" y="920.5" width="2.0" height="3.2"/><rect x="1382.0" y="920.5" width="2.0" height="3.2"/><rect x="1409.6" y="920.5" width="2.0" height="3.2"/><rect x="1437.3" y="920.5" width="2.0" height="3.2"/><rect x="1464.9" y="920.5" width="2.0" height="3.2"/><rect x="1492.5" y="920.5" width="2.0" height="3.2"/><rect x="1520.2" y="920.5" width="2.0" height="3.2"/><rect x="1547.8" y="920.5" width="2.0" height="3.2"/><rect x="1575.4" y="920.5" width="2.0" height="3.2"/><rect x="1603.0" y="920.5" width="2.0" height="3.2"/><rect x="1630.7" y="920.5" width="2.0" height="3.2"/><rect x="1658.3" y="920.5" width="2.0" height="3.2"/><rect x="1685.9" y="920.5" width="2.0" height="3.2"/><rect x="1713.6" y="920.5" width="2.0" height="3.2"/><rect x="1741.2" y="920.5" width="2.0" height="3.2"/><rect x="1768.8" y="920.5" width="2.0" height="3.2"/></g>
<text x="1708" y="346.9" text-anchor="end" font-size="26.5" font-weight="bold" letter-spacing="0.4" fill="#0b1a2b" stroke="#0b1a2b" stroke-width="0.5">0.23</text>
<text x="1708" y="482.4" text-anchor="end" font-size="26.5" font-weight="bold" letter-spacing="0.4" fill="#0b1a2b" stroke="#0b1a2b" stroke-width="0.5">0.225</text>
<text x="1708" y="618.1" text-anchor="end" font-size="26.5" font-weight="bold" letter-spacing="0.4" fill="#0b1a2b" stroke="#0b1a2b" stroke-width="0.5">0.22</text>
<text x="1708" y="753.9" text-anchor="end" font-size="26.5" font-weight="bold" letter-spacing="0.4" fill="#0b1a2b" stroke="#0b1a2b" stroke-width="0.5">0.215</text>
<text x="137" y="856.4" text-anchor="middle" font-size="26.5" font-weight="bold" fill="#0b1a2b" stroke="#0b1a2b" stroke-width="0.45">18:00</text><rect x="134.4" y="804.4" width="3.4" height="2.2" fill="#1a1f26"/>
<text x="579" y="856.4" text-anchor="middle" font-size="26.5" font-weight="bold" fill="#0b1a2b" stroke="#0b1a2b" stroke-width="0.45">00:00</text><rect x="576.4" y="804.4" width="3.4" height="2.2" fill="#1a1f26"/>
<text x="1021.5" y="856.4" text-anchor="middle" font-size="26.5" font-weight="bold" fill="#0b1a2b" stroke="#0b1a2b" stroke-width="0.45">06:00</text><rect x="1018.9" y="804.4" width="3.4" height="2.2" fill="#1a1f26"/>
<text x="1464.6" y="856.4" text-anchor="middle" font-size="26.5" font-weight="bold" fill="#0b1a2b" stroke="#0b1a2b" stroke-width="0.45">12:00</text><rect x="1462.0" y="804.4" width="3.4" height="2.2" fill="#1a1f26"/>
<rect x="-24" y="-24" width="43" height="1128" fill="#66be74"/>
<!-- header -->
<text transform="translate(49.8,84.6) scale(1.045,1)" font-size="46" font-weight="bold" letter-spacing="0.1" fill="#0b1a2b" stroke="#0b1a2b" stroke-width="0.8">HBAR-USD</text>
<text x="50.5" y="118" font-size="26.5" fill="#132133">24 Hour Chart</text>
<text transform="translate(50.4,218.2) scale(1.056,1)" font-size="92" font-weight="bold" letter-spacing="3.4" fill="#0b1a2b" stroke="#0b1a2b" stroke-width="1.6">0.2310</text>
<text x="391.5" y="220" font-size="26" font-weight="bold" letter-spacing="0.9" fill="#0b1a2b" stroke="#0b1a2b" stroke-width="0.5">5.18%</text>
<path d="M483,226 L513,226 L498,203 Z" fill="#66be74"/>
<text x="1402.2" y="37" font-size="24" font-weight="bold" letter-spacing="0.3" word-spacing="-1.5" fill="#0c0c0c" stroke="#0c0c0c" stroke-width="0.3">Powered by</text>
<g fill="#000" stroke="#000">
<path d="M1438.6,63.4 L1408.4,63.4 L1408.4,94.5 L1423.5,94.5" fill="none" stroke-width="4.2" stroke-linecap="round" stroke-linejoin="round"/>
<circle cx="1408.4" cy="63.4" r="5.5" stroke="none"/><circle cx="1423.5" cy="63.4" r="5.5" stroke="none"/><circle cx="1438.6" cy="63.4" r="5.5" stroke="none"/>
<circle cx="1408.4" cy="79" r="5.5" stroke="none"/><circle cx="1408.4" cy="94.5" r="5.5" stroke="none"/><circle cx="1423.5" cy="94.5" r="5.5" stroke="none"/>
<circle cx="1423.5" cy="79" r="2.3" stroke="none"/><circle cx="1438.6" cy="79" r="2.3" stroke="none"/><circle cx="1438.6" cy="94.5" r="2.3" stroke="none"/>
</g>
<text x="1449.6" y="91.8" font-size="36.9" font-weight="bold" fill="#050505" stroke="#050505" stroke-width="0.7">CoinDesk</text>
<text x="1625.6" y="91.8" font-size="36.9" font-weight="bold" letter-spacing="0.7" fill="#050505" stroke="#050505" stroke-width="0.7">Data</text>
<text x="1710" y="137.5" text-anchor="end" font-size="26.2" letter-spacing="0.25" fill="#a9a9a9">6 Oct 2025 16:03 (GMT)</text>
<text transform="translate(1065.5,180) scale(1.07,1)" text-anchor="middle" font-size="28" font-weight="bold" letter-spacing="0.5" fill="#0b1a2b" stroke="#0b1a2b" stroke-width="0.5">0.2196</text><text x="1065" y="217.6" text-anchor="middle" font-size="26" letter-spacing="-0.3" fill="#132133">Open</text>
<text transform="translate(1213.5,180) scale(1.07,1)" text-anchor="middle" font-size="28" font-weight="bold" letter-spacing="0.5" fill="#0b1a2b" stroke="#0b1a2b" stroke-width="0.5">0.2331</text><text x="1213" y="217.6" text-anchor="middle" font-size="26" letter-spacing="-0.3" fill="#132133">High</text>
<text transform="translate(1362.5,180) scale(1.07,1)" text-anchor="middle" font-size="28" font-weight="bold" letter-spacing="0.5" fill="#0b1a2b" stroke="#0b1a2b" stroke-width="0.5">0.2146</text><text x="1362" y="217.6" text-anchor="middle" font-size="26" letter-spacing="-0.3" fill="#132133">Low</text>
<text transform="translate(1510.5,180) scale(1.07,1)" text-anchor="middle" font-size="28" font-weight="bold" letter-spacing="0.5" fill="#0b1a2b" stroke="#0b1a2b" stroke-width="0.5">131.99 M</text><text x="1510" y="217.6" text-anchor="middle" font-size="26" letter-spacing="-0.3" fill="#132133">Vol</text>
<text transform="translate(1659.5,180) scale(1.07,1)" text-anchor="middle" font-size="28" font-weight="bold" letter-spacing="0.5" fill="#0b1a2b" stroke="#0b1a2b" stroke-width="0.5">29.47 M</text><text x="1659" y="217.6" text-anchor="middle" font-size="26" letter-spacing="-0.3" fill="#132133">Vol USD</text>
</svg>
</body></html>
